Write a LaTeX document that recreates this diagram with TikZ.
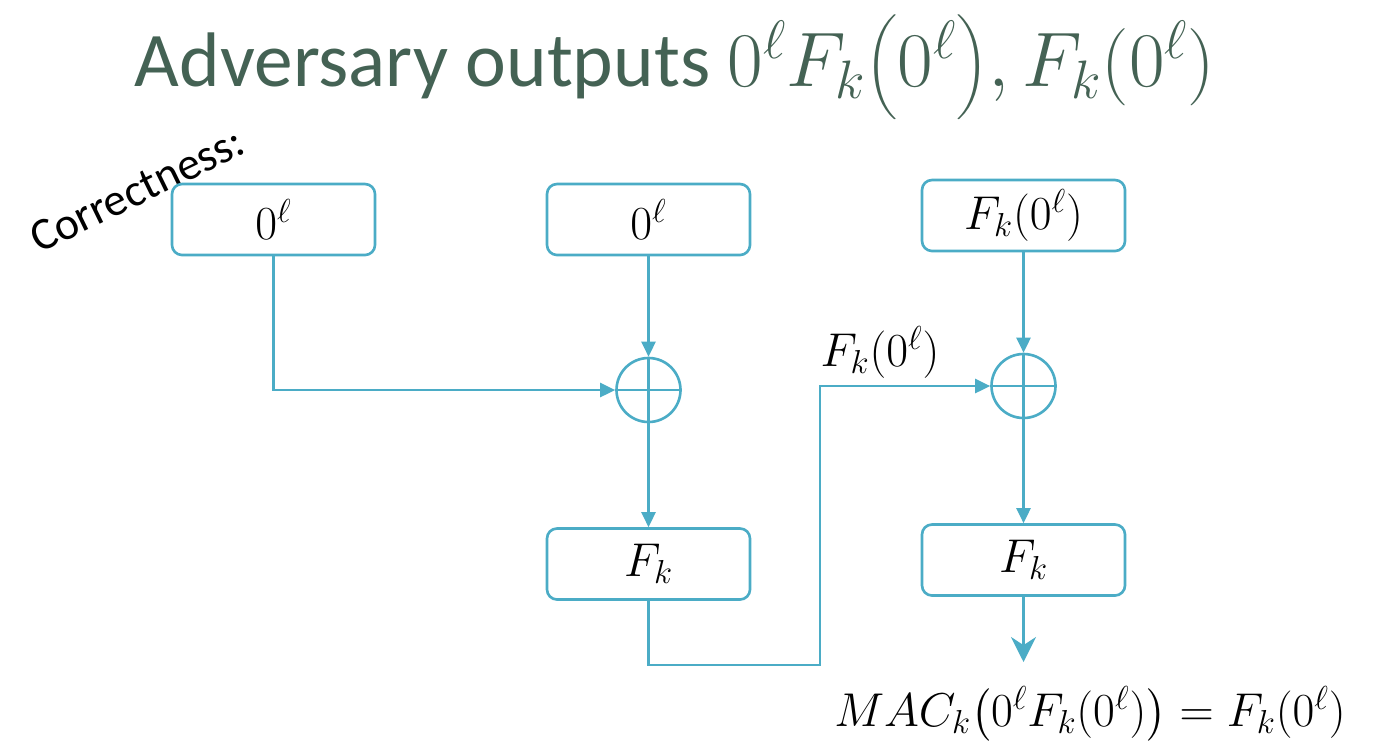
\RequirePackage{fix-cm}
\documentclass[tikz,border=0pt]{standalone}
\usepackage{amsmath}
\usepackage{fontspec}
\setmainfont{Carlito}
\usetikzlibrary{arrows.meta,positioning,calc}
\definecolor{wireblue}{RGB}{75,172,198}
\definecolor{titlegreen}{RGB}{68,98,84}
\begin{document}
\begin{tikzpicture}[>={Triangle[length=3mm,width=2.8mm]},line width=1.5pt,
  blk/.style={draw=wireblue,rounded corners=2mm,minimum width=4.06cm,minimum height=1.42cm,font=\fontsize{27}{30}\selectfont},
  xor/.style={draw=wireblue,circle,minimum size=1.28cm,inner sep=0pt},
  wire/.style={draw=wireblue,->}]
\useasboundingbox (0,0) rectangle (27.82,-14.88);
\node[titlegreen,inner sep=0pt,font=\fontsize{44}{46}\selectfont] (title) at (13.5,-1.35) {Adversary outputs $0^\ell F_k\big(0^\ell\big), F_k(0^\ell)$};
\node[rotate=26,inner sep=0pt,font=\fontsize{26}{28}\selectfont] (corr) at (2.74,-3.8) {Correctness:};
\node[blk] (in1) at (5.47,-4.39) {$0^\ell$};
\node[blk] (in2) at (12.97,-4.39) {$0^\ell$};
\node[blk] (in3) at (20.47,-4.31) {$F_k(0^\ell)$};
\node[xor] (x1) at (12.97,-7.8) {};
\node[xor] (x2) at (20.47,-7.72) {};
\node[blk] (f1) at (12.97,-11.28) {$F_k$};
\node[blk] (f2) at (20.47,-11.2) {$F_k$};
\coordinate (bend) at (16.4,-13.3);
\coordinate (out) at (20.47,-13.24);
\node[font=\fontsize{27}{30}\selectfont] (mid) at (17.6,-7.05) {$F_k(0^\ell)$};
\node[font=\fontsize{27}{30}\selectfont] (mac) at (21.8,-14.3) {$MAC_k\big(0^\ell F_k(0^\ell)\big) = F_k(0^\ell)$};
% xor crosses
\draw[wireblue] (x1.north)--(x1.south) (x1.west)--(x1.east);
\draw[wireblue] (x2.north)--(x2.south) (x2.west)--(x2.east);
% wires
\draw[wire] (in1.south) |- (x1.west);
\draw[wire] (in2) -- (x1.north);
\draw[wire] (x1.south) -- (f1.north);
\draw[wire] (f1.south) |- (bend) |- (x2.west);
\draw[wire] (in3) -- (x2.north);
\draw[wire] (x2.south) -- (f2.north);
\draw[draw=wireblue,-{Stealth[length=5mm,width=5mm]}] (f2.south) -- (out);
\end{tikzpicture}
\end{document}
